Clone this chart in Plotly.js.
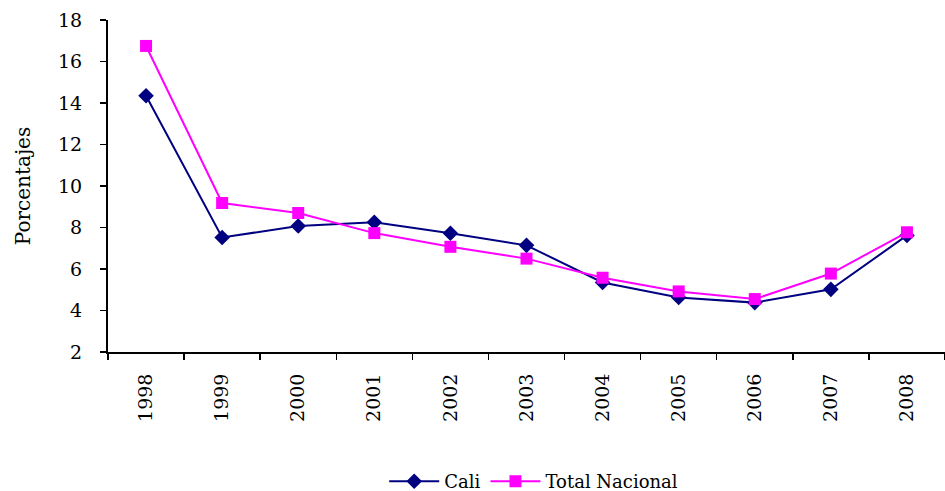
<!DOCTYPE html>
<html>
<head>
<meta charset="utf-8">
<script src="https://cdn.plot.ly/plotly-3.0.1.min.js"></script>
<style>html,body{margin:0;padding:0;background:#fff}#chart{width:945px;height:491px}</style>
</head>
<body>
<div id="chart"></div>
<script>
var years = ["1998","1999","2000","2001","2002","2003","2004","2005","2006","2007","2008"];
var cali = [14.35, 7.52, 8.07, 8.25, 7.72, 7.14, 5.35, 4.63, 4.38, 5.02, 7.62];
var totalNacional = [16.75, 9.18, 8.7, 7.73, 7.07, 6.5, 5.58, 4.92, 4.55, 5.78, 7.77];
var seriesNames = ["Cali", "Total Nacional"];

var font = "DejaVu Serif, serif";
var data = [
  {x: years, y: cali, name: seriesNames[0], type: "scatter", mode: "lines+markers",
   line: {color: "#000080", width: 2}, marker: {symbol: "diamond", size: 12, color: "#000080"}},
  {x: years, y: totalNacional, name: seriesNames[1], type: "scatter", mode: "lines+markers",
   line: {color: "#FF00FF", width: 2}, marker: {symbol: "square", size: 12, color: "#FF00FF"}}
];
var layout = {
  width: 945, height: 491,
  margin: {l: 108, r: 0, t: 20, b: 139, autoexpand: false},
  paper_bgcolor: "#fff", plot_bgcolor: "#fff",
  font: {family: font, color: "#000", size: 18},
  showlegend: true,
  legend: {orientation: "h", x: 0.33, xanchor: "left", y: -0.39, yanchor: "middle",
           font: {family: font, size: 18}, itemwidth: 50},
  xaxis: {type: "category", range: [-0.5, 10.5], tickson: "boundaries", ticks: "outside",
          ticklen: 6, tickwidth: 1.5, tickcolor: "#000", showline: true, linecolor: "#000",
          linewidth: 2, showgrid: false, zeroline: false, tickangle: -90,
          tickfont: {family: font, size: 19}, ticklabelstandoff: 12},
  yaxis: {range: [2, 18], dtick: 2, ticks: "outside", ticklen: 6, tickwidth: 1.5,
          tickcolor: "#000", showline: true, linecolor: "#000", linewidth: 2,
          showgrid: false, zeroline: false, tickfont: {family: font, size: 19},
          ticklabelstandoff: 14,
          title: {text: "Porcentajes", font: {family: font, size: 20}, standoff: 22}}
};
Plotly.newPlot("chart", data, layout, {displayModeBar: false, staticPlot: true});
</script>
</body>
</html>
